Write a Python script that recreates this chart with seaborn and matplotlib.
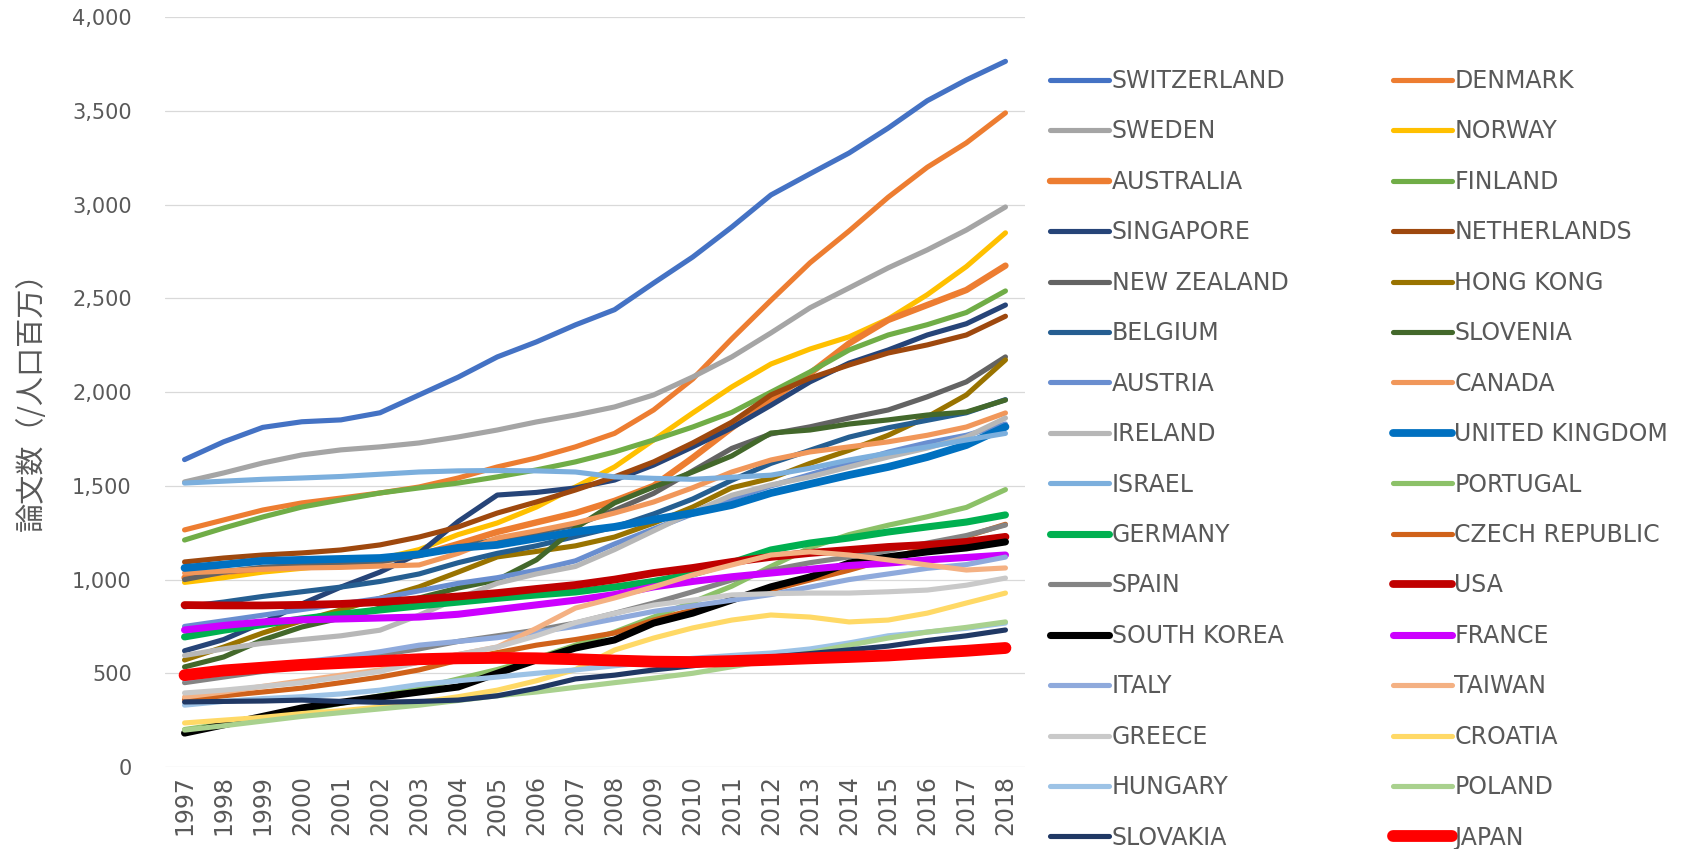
import matplotlib
matplotlib.use("Agg")
import matplotlib.pyplot as plt
from matplotlib.ticker import FuncFormatter
import pandas as pd
import seaborn as sns

# %% data (papers per million population)

years = list(range(1997, 2019))

switzerland = [1640, 1735, 1812, 1842, 1852, 1890, 1985, 2080, 2188, 2268, 2359, 2440, 2582, 2721, 2881, 3052, 3165, 3276, 3409, 3555, 3666, 3765]
denmark = [1265, 1318, 1371, 1409, 1435, 1462, 1494, 1542, 1601, 1649, 1708, 1780, 1905, 2070, 2285, 2490, 2690, 2860, 3040, 3200, 3330, 3490]
sweden = [1521, 1569, 1622, 1665, 1692, 1708, 1729, 1761, 1798, 1841, 1878, 1921, 1985, 2081, 2188, 2316, 2450, 2556, 2663, 2759, 2865, 2988]
norway = [985, 1010, 1040, 1060, 1080, 1110, 1160, 1240, 1302, 1387, 1494, 1601, 1745, 1889, 2028, 2150, 2230, 2295, 2390, 2520, 2670, 2850]
australia = [1010, 1040, 1060, 1075, 1085, 1100, 1130, 1190, 1254, 1305, 1355, 1420, 1500, 1650, 1810, 1960, 2100, 2260, 2385, 2465, 2545, 2675]
finland = [1211, 1275, 1334, 1387, 1425, 1462, 1489, 1515, 1548, 1585, 1628, 1681, 1745, 1814, 1892, 2000, 2108, 2225, 2305, 2360, 2425, 2540]
singapore = [620, 680, 770, 870, 960, 1040, 1140, 1310, 1451, 1465, 1489, 1531, 1611, 1708, 1810, 1930, 2055, 2155, 2225, 2305, 2365, 2465]
netherlands = [1094, 1115, 1131, 1142, 1158, 1185, 1227, 1281, 1355, 1414, 1478, 1548, 1628, 1729, 1840, 1985, 2075, 2145, 2209, 2252, 2305, 2405]
new_zealand = [1000, 1040, 1065, 1075, 1080, 1095, 1130, 1170, 1215, 1250, 1290, 1370, 1460, 1580, 1700, 1777, 1815, 1862, 1905, 1975, 2055, 2188]
hong_kong = [571, 640, 715, 780, 838, 900, 961, 1040, 1121, 1150, 1180, 1227, 1301, 1387, 1490, 1540, 1620, 1690, 1770, 1868, 1985, 2172]
belgium = [855, 880, 910, 935, 960, 990, 1030, 1090, 1140, 1180, 1230, 1280, 1350, 1430, 1530, 1620, 1690, 1760, 1810, 1850, 1890, 1960]
slovenia = [534, 587, 678, 747, 795, 848, 902, 955, 998, 1105, 1275, 1409, 1494, 1574, 1660, 1782, 1798, 1830, 1852, 1878, 1894, 1958]
austria = [750, 780, 810, 840, 870, 900, 940, 980, 1010, 1050, 1100, 1190, 1270, 1350, 1430, 1500, 1560, 1620, 1680, 1730, 1770, 1830]
canada = [1035, 1045, 1055, 1062, 1065, 1072, 1078, 1140, 1222, 1260, 1302, 1355, 1414, 1490, 1574, 1638, 1681, 1708, 1735, 1770, 1814, 1889]
ireland = [595, 630, 660, 680, 700, 730, 810, 900, 980, 1030, 1070, 1160, 1260, 1360, 1450, 1505, 1548, 1601, 1654, 1702, 1761, 1862]
united_kingdom = [1062, 1080, 1100, 1105, 1110, 1115, 1135, 1169, 1185, 1220, 1255, 1281, 1320, 1355, 1398, 1462, 1510, 1558, 1601, 1654, 1718, 1815]
israel = [1515, 1525, 1535, 1542, 1550, 1562, 1574, 1580, 1582, 1580, 1574, 1548, 1540, 1535, 1546, 1557, 1594, 1638, 1675, 1708, 1745, 1780]
portugal = [200, 230, 265, 300, 340, 380, 420, 470, 520, 580, 650, 720, 800, 880, 965, 1070, 1170, 1240, 1290, 1335, 1385, 1480]
germany = [694, 730, 760, 790, 815, 838, 860, 880, 900, 918, 934, 960, 990, 1030, 1090, 1158, 1195, 1222, 1254, 1281, 1307, 1345]
czech_republic = [360, 380, 400, 421, 450, 480, 518, 570, 610, 650, 680, 715, 784, 838, 891, 944, 998, 1050, 1110, 1170, 1230, 1295]
spain = [450, 480, 510, 540, 570, 600, 630, 670, 700, 730, 768, 820, 875, 935, 998, 1051, 1090, 1121, 1155, 1195, 1235, 1291]
usa = [864, 862, 862, 865, 870, 880, 895, 910, 928, 950, 971, 1000, 1035, 1062, 1094, 1121, 1142, 1158, 1174, 1185, 1201, 1228]
south_korea = [181, 225, 270, 315, 345, 373, 400, 427, 500, 571, 635, 678, 768, 821, 891, 961, 1014, 1088, 1121, 1148, 1169, 1201]
france = [731, 755, 774, 785, 790, 795, 800, 815, 840, 865, 890, 920, 961, 990, 1015, 1035, 1055, 1075, 1088, 1105, 1118, 1131]
italy = [470, 500, 530, 560, 585, 615, 650, 670, 690, 720, 750, 790, 830, 860, 890, 920, 960, 1000, 1030, 1060, 1080, 1120]
taiwan = [373, 400, 430, 460, 490, 518, 560, 600, 640, 740, 848, 902, 961, 1025, 1078, 1131, 1148, 1131, 1105, 1078, 1051, 1062]
greece = [395, 410, 430, 450, 480, 510, 560, 600, 640, 700, 770, 820, 864, 890, 918, 925, 928, 928, 935, 944, 970, 1008]
croatia = [235, 250, 265, 285, 300, 320, 345, 375, 410, 460, 520, 624, 688, 742, 784, 811, 800, 774, 784, 821, 875, 928]
hungary = [330, 350, 365, 375, 390, 410, 440, 460, 480, 500, 518, 540, 560, 580, 595, 608, 630, 662, 700, 720, 740, 768]
poland = [197, 220, 245, 270, 290, 310, 330, 355, 380, 400, 425, 450, 474, 500, 535, 571, 610, 650, 688, 720, 745, 774]
slovakia = [347, 350, 352, 357, 350, 345, 350, 357, 380, 420, 470, 490, 518, 540, 565, 587, 605, 625, 645, 675, 700, 731]
japan = [490, 515, 530, 545, 555, 565, 575, 580, 582, 580, 575, 568, 562, 560, 565, 572, 580, 587, 595, 608, 620, 635]

countries = ["SWITZERLAND", "DENMARK", "SWEDEN", "NORWAY", "AUSTRALIA", "FINLAND",
             "SINGAPORE", "NETHERLANDS", "NEW ZEALAND", "HONG KONG", "BELGIUM", "SLOVENIA",
             "AUSTRIA", "CANADA", "IRELAND", "UNITED KINGDOM", "ISRAEL", "PORTUGAL",
             "GERMANY", "CZECH REPUBLIC", "SPAIN", "USA", "SOUTH KOREA", "FRANCE",
             "ITALY", "TAIWAN", "GREECE", "CROATIA", "HUNGARY", "POLAND", "SLOVAKIA", "JAPAN"]

series = [switzerland, denmark, sweden, norway, australia, finland,
          singapore, netherlands, new_zealand, hong_kong, belgium, slovenia,
          austria, canada, ireland, united_kingdom, israel, portugal,
          germany, czech_republic, spain, usa, south_korea, france,
          italy, taiwan, greece, croatia, hungary, poland, slovakia, japan]

colors = ["#4472C4", "#ED7D31", "#A5A5A5", "#FFC000", "#ED7D31", "#70AD47",
          "#264478", "#9E480E", "#636363", "#997300", "#255E91", "#43682B",
          "#698ED0", "#F1975A", "#B7B7B7", "#0070C0", "#7CAFDD", "#8CC168",
          "#00B050", "#D0621A", "#848484", "#C00000", "#000000", "#CC00FF",
          "#8FAADC", "#F4B183", "#C9C9C9", "#FFD966", "#9DC3E6", "#A9D18E", "#203864", "#FF0000"]

thick = {"AUSTRALIA": 4.6, "UNITED KINGDOM": 5.6, "GERMANY": 5.1, "USA": 5.6,
         "SOUTH KOREA": 5.1, "FRANCE": 5.1, "JAPAN": 8.5}

# %% plot

sns.set_style("white")
plt.rcParams['font.family'] = ['DejaVu Sans', 'Noto Sans CJK JP']

fig = plt.figure(figsize=(16.89, 8.49), dpi=100)
ax = fig.add_axes([165 / 1689, 1 - 767 / 849, 860 / 1689, 749.7 / 849])

for name, vals, col in zip(countries, series, colors):
    df = pd.DataFrame({'year': years, 'value': vals})
    sns.lineplot(data=df, x='year', y='value', color=col, linewidth=thick.get(name, 3.7),
                 ax=ax, label=name, errorbar=None, solid_capstyle='round')

ax.set_xlim(1996.5, 2018.5)
ax.set_ylim(0, 4000)
ax.set_yticks(range(0, 4001, 500))
ax.yaxis.set_major_formatter(FuncFormatter(lambda v, p: '{:,.0f}'.format(v)))
ax.set_xticks(years)
ax.set_xticklabels([str(y) for y in years], rotation=90)
ax.set_xlabel('')
ax.set_ylabel('')
ax.tick_params(axis='y', length=0, pad=24, labelsize=15, labelcolor='#595959')
ax.tick_params(axis='x', length=0, pad=6, labelsize=17, labelcolor='#595959')
ax.yaxis.grid(True, color='#D9D9D9', linewidth=0.9)
ax.xaxis.grid(False)
ax.set_axisbelow(True)
sns.despine(ax=ax, left=True, bottom=True)

fig.text(0.019, 0.536, '論文数（/人口百万）', rotation=90, ha='center', va='center',
         fontsize=21, color='#595959', family=['Noto Sans CJK JP', 'DejaVu Sans'])

# legend, row-major in two columns
handles, labels = ax.get_legend_handles_labels()
ax.get_legend().remove()
order = list(range(0, len(handles), 2)) + list(range(1, len(handles), 2))
leg = fig.legend([handles[i] for i in order], [labels[i] for i in order],
                 ncol=2, loc='upper left', bbox_to_anchor=(1050 / 1689, 1 - 69 / 849),
                 frameon=False, fontsize=17, handlelength=2.5, handletextpad=0.12,
                 columnspacing=4.4, labelspacing=1.12, borderpad=0, borderaxespad=0)
for t in leg.get_texts():
    t.set_color('#595959')

fig.savefig('out.png', dpi=100)
plt.close(fig)
